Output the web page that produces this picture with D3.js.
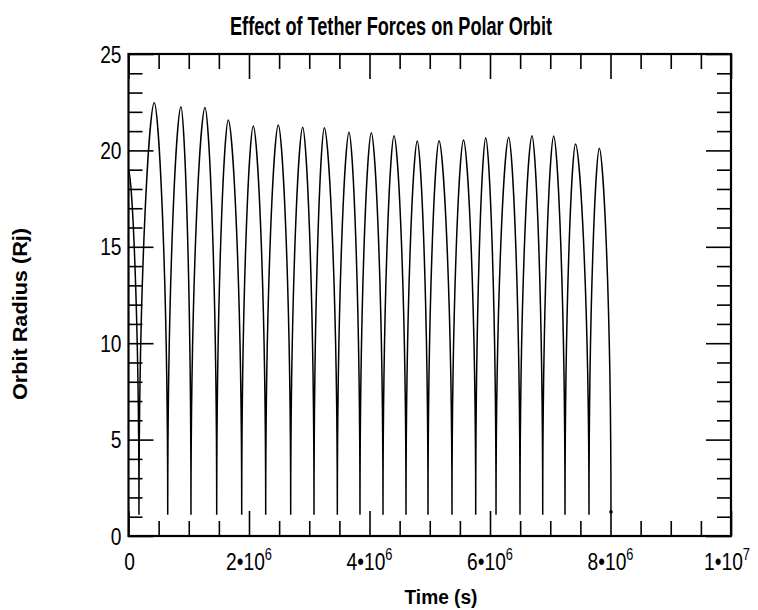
<!DOCTYPE html>
<html>
<head>
<meta charset="utf-8">
<script src="https://cdn.jsdelivr.net/npm/d3@7"></script>
<style>
  html, body { margin: 0; padding: 0; background: #fff; }
  svg { display: block; }
  text { font-family: 'Liberation Sans', Arial, 'Helvetica', sans-serif; fill: #000; }
</style>
</head>
<body>
<svg id="chart" width="758" height="610"></svg>
<script>
// ---------------- data (time in units of 1e6 s, radius in Rj) ----------------
const startTime = 0.0;
const startRadius = 19.0;
const periapsisTimes = [0.174, 0.651, 1.037, 1.464, 1.879, 2.277, 2.692, 3.079, 3.466, 3.842,
                        4.224, 4.606, 4.971, 5.369, 5.763, 6.100, 6.498, 6.875, 7.245, 7.643];
const periapsisRadius = 1.1;
const apoapsisTimes = [0.428, 0.871, 1.270, 1.656, 2.071, 2.486, 2.891, 3.250, 3.660, 4.030,
                       4.407, 4.793, 5.154, 5.560, 5.929, 6.310, 6.697, 7.057, 7.419, 7.814];
const apoapsisRadii = [22.47, 22.27, 22.23, 21.58, 21.27, 21.32, 21.20, 21.18, 20.94, 20.92,
                       20.76, 20.49, 20.50, 20.54, 20.66, 20.68, 20.76, 20.75, 20.33, 20.11];
const endTime = 8.008;
const endRadius = 1.25;

const xMajorTicks = [0, 2, 4, 6, 8, 10];
const xMajorLabels = [["0", ""], ["2•10", "6"], ["4•10", "6"], ["6•10", "6"], ["8•10", "6"], ["1•10", "7"]];
const xMinorTicks = [0.5, 1, 1.5, 2.5, 3, 3.5, 4.5, 5, 5.5, 6.5, 7, 7.5, 8.5, 9, 9.5];
const yMajorTicks = [0, 5, 10, 15, 20, 25];
const yMinorTicks = [1,2,3,4,6,7,8,9,11,12,13,14,16,17,18,19,21,22,23,24];

const titleText = "Effect of Tether Forces on Polar Orbit";
const xLabelText = "Time (s)";
const yLabelText = "Orbit Radius (Rj)";

// ---------------- build point sequence ----------------
const points = [{t: startTime, r: startRadius}];
for (let i = 0; i < periapsisTimes.length; i++) {
  points.push({t: periapsisTimes[i], r: periapsisRadius});
  points.push({t: apoapsisTimes[i], r: apoapsisRadii[i]});
}
points.push({t: endTime, r: endRadius});

// ---------------- layout ----------------
const svg = d3.select("#chart");
const plotL = 128.5, plotR = 731, plotT = 54, plotB = 536;
const x = d3.scaleLinear().domain([0, 10]).range([plotL, plotR]);
const y = d3.scaleLinear().domain([0, 25]).range([plotB, plotT]);
const NARROW = 0.8;

// custom curve: vertical tangent at periapsis (cusp), horizontal tangent at apoapsis
function OrbitCurve(context) { this._context = context; }
OrbitCurve.prototype = {
  areaStart() {}, areaEnd() {},
  lineStart() { this._point = 0; },
  lineEnd() {},
  point(px, py) {
    px = +px; py = +py;
    const kPeri = 0.6, kApo = 0.3;
    if (this._point === 0) {
      this._point = 1;
      this._context.moveTo(px, py);
    } else {
      const x0 = this._x0, y0 = this._y0;
      if (py < y0) { // rising: periapsis -> apoapsis
        this._context.bezierCurveTo(x0, y0 + kPeri * (py - y0), px - kApo * (px - x0), py, px, py);
      } else { // falling: apoapsis -> periapsis
        this._context.bezierCurveTo(x0 + kApo * (px - x0), y0, px, py - kPeri * (py - y0), px, py);
      }
    }
    this._x0 = px; this._y0 = py;
  }
};
const curveOrbit = ctx => new OrbitCurve(ctx);

// ---------------- axes ticks ----------------
const axisG = svg.append("g");
function drawAxis(gen, tx, ty) {
  const g = axisG.append("g").attr("transform", `translate(${tx},${ty})`).call(gen);
  g.select(".domain").remove();
  g.selectAll(".tick line").attr("stroke", "#000").attr("stroke-width", 1.6);
  g.selectAll(".tick text").remove();
  return g;
}
drawAxis(d3.axisBottom(x).tickValues(xMinorTicks).tickSize(-15), 0, plotB);
drawAxis(d3.axisBottom(x).tickValues(xMajorTicks).tickSize(-25), 0, plotB);
drawAxis(d3.axisTop(x).tickValues(xMinorTicks).tickSize(-15), 0, plotT);
drawAxis(d3.axisTop(x).tickValues(xMajorTicks).tickSize(-25), 0, plotT);
drawAxis(d3.axisLeft(y).tickValues(yMinorTicks).tickSize(-14), plotL, 0);
drawAxis(d3.axisLeft(y).tickValues(yMajorTicks).tickSize(-25), plotL, 0);
drawAxis(d3.axisRight(y).tickValues(yMinorTicks).tickSize(-14), plotR, 0);
drawAxis(d3.axisRight(y).tickValues(yMajorTicks).tickSize(-25), plotR, 0);

// frame
svg.append("rect")
  .attr("x", plotL).attr("y", plotT)
  .attr("width", plotR - plotL).attr("height", plotB - plotT)
  .attr("fill", "none").attr("stroke", "#000").attr("stroke-width", 2.2);

// y tick labels (condensed via horizontal scale)
svg.append("g").selectAll("text").data(yMajorTicks).join("text")
  .attr("transform", d => `translate(${plotL - 7},${y(d)}) scale(${NARROW},1)`)
  .attr("dy", "0.36em")
  .attr("text-anchor", "end")
  .attr("font-size", 24)
  .text(d => d);

// x tick labels
const xl = svg.append("g").selectAll("text").data(xMajorTicks).join("text")
  .attr("transform", (d, i) => `translate(${x(d) + (i === xMajorTicks.length - 1 ? -4 : (i === 0 ? 1 : 0))},${plotB + 34}) scale(${NARROW},1)`)
  .attr("text-anchor", "middle")
  .attr("font-size", 24);
xl.each(function(d, i) {
  const t = d3.select(this);
  t.append("tspan").text(xMajorLabels[i][0]);
  if (xMajorLabels[i][1]) {
    t.append("tspan").attr("dy", -10).attr("font-size", 16).text(xMajorLabels[i][1]);
  }
});

// data line
const line = d3.line().x(d => x(d.t)).y(d => y(d.r)).curve(curveOrbit);
svg.append("path").datum(points)
  .attr("d", line)
  .attr("fill", "none").attr("stroke", "#000").attr("stroke-width", 1.5);

// end marker
svg.append("circle")
  .attr("cx", x(endTime)).attr("cy", y(endRadius)).attr("r", 1.8).attr("fill", "#000");

// title and labels
svg.append("text").attr("x", 391).attr("y", 35)
  .attr("text-anchor", "middle").attr("font-size", 25).attr("font-weight", "bold")
  .attr("textLength", 322).attr("lengthAdjust", "spacingAndGlyphs")
  .text(titleText);
svg.append("text").attr("x", 441).attr("y", 604)
  .attr("text-anchor", "middle").attr("font-size", 20).attr("font-weight", "bold")
  .attr("textLength", 73).attr("lengthAdjust", "spacingAndGlyphs")
  .text(xLabelText);
svg.append("text").attr("transform", "translate(27,314) rotate(-90)")
  .attr("text-anchor", "middle").attr("font-size", 20).attr("font-weight", "bold")
  .attr("textLength", 172).attr("lengthAdjust", "spacingAndGlyphs")
  .text(yLabelText);
</script>
</body>
</html>
